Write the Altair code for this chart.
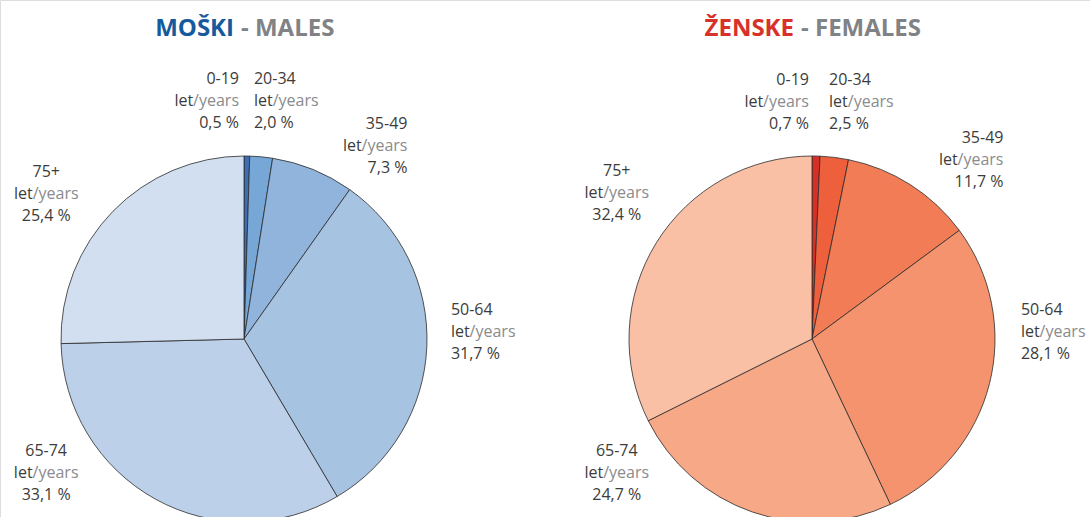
import math
import altair as alt
import pandas as pd

# ---------------- data ----------------
AGE_GROUPS = ["0-19", "20-34", "35-49", "50-64", "65-74", "75+"]
MALE_PCT = [0.5, 2.0, 7.3, 31.7, 33.1, 25.4]
FEMALE_PCT = [0.7, 2.5, 11.7, 28.1, 24.7, 32.4]
UNIT_SL = ["let"]
UNIT_EN = ["/years"]
MALE_TITLE = ["MOŠKI", "- MALES"]
FEMALE_TITLE = ["ŽENSKE", "- FEMALES"]

# ---------------- styles / layout ----------------
MALE_COLORS = ["#3e6db3", "#77a7d6", "#91b4dc", "#a6c3e2", "#bcd0ea", "#d2dff0"]
FEMALE_COLORS = ["#d52f27", "#ee5f3c", "#f27c55", "#f4936d", "#f7a887", "#fac0a6"]
LABEL_ALIGN = ["right", "left", "right", "left", "center", "center"]
MALE_NUDGE = [-2.1, -3.0, 18.1, -4.2, 26.9, -8.1]      # label angle shift from slice middle (deg)
MALE_LABEL_R = [238, 238, 253, 207, 239, 245]
FEMALE_NUDGE = [-2.0, -2.9, 14.4, -16.0, 36.4, 5.1]
FEMALE_LABEL_R = [237, 238, 262, 209, 237, 244]
FONT = "Open Sans"
DARK = "#3c3c3b"
GREY = "#8a8b8d"
TITLE_GREY = "#808285"
LABEL_SIZE = 16
LINE = 22
W_LET = 18.7
W_YEARS = 45.8


def pie_layers(values, colors, nudges, radii, cx, cy, r):
    total = sum(values)
    cum = 0.0
    rows = []
    for i, (a, v, n, lr, al) in enumerate(zip(AGE_GROUPS, values, nudges, radii, LABEL_ALIGN)):
        mid = (cum + v / 2) / total * 2 * math.pi
        cum += v
        rows.append(dict(idx=i, age=a, pct=v,
                         pct_txt=f"{v:.1f}".replace(".", ",") + " %",
                         let=UNIT_SL[0], years=UNIT_EN[0], al=al, lr=lr,
                         ang=mid + math.radians(n)))
    df = pd.DataFrame(rows)
    arcs = alt.Chart(df).mark_arc(outerRadius=r, stroke="#2b2b2b", strokeWidth=0.8).encode(
        theta=alt.Theta("pct:Q", stack=True),
        color=alt.Color("age:N", scale=alt.Scale(domain=AGE_GROUPS, range=colors), legend=None),
        order=alt.Order("idx:Q"),
        x=alt.value(cx), y=alt.value(cy),
    )
    out = [arcs]
    # per-alignment offsets for the two-colour middle line
    split = {
        "center": (("right", -W_YEARS / 2 - W_LET / 2 + W_LET), ("left", -W_YEARS / 2 - W_LET / 2 + W_LET)),
        "right": (("right", -W_YEARS), ("right", 0)),
        "left": (("left", 0), ("left", W_LET)),
    }
    for al, ((let_al, let_dx), (yrs_al, yrs_dx)) in split.items():
        base = alt.Chart(df).transform_filter(alt.datum.al == al).encode(
            theta=alt.Theta("ang:Q", scale=None, stack=None),
            radius=alt.Radius("lr:Q", scale=None, stack=None),
            x=alt.value(cx), y=alt.value(cy),
        )
        common = dict(font=FONT, fontSize=LABEL_SIZE, baseline="middle")
        out += [
            base.mark_text(dy=-LINE, color=DARK, align=al, **common).encode(text="age:N"),
            base.mark_text(dx=let_dx, color=DARK, align=let_al, **common).encode(text="let:N"),
            base.mark_text(dx=yrs_dx, color=GREY, align=yrs_al, **common).encode(text="years:N"),
            base.mark_text(dy=LINE, color=DARK, align=al, **common).encode(text="pct_txt:N"),
        ]
    return out


def title_layers(parts, color, split_x):
    df = pd.DataFrame({"a": [parts[0]], "b": [parts[1]]})
    base = alt.Chart(df).encode(y=alt.value(36))
    a = base.mark_text(font=FONT, fontSize=24, fontWeight="bold", color=color,
                       align="right", baseline="alphabetic").encode(text="a:N", x=alt.value(split_x - 3))
    b = base.mark_text(font=FONT, fontSize=24, fontWeight="bold", color=TITLE_GREY,
                       align="left", baseline="alphabetic").encode(text="b:N", x=alt.value(split_x + 4))
    return [a, b]


layers = []
layers += pie_layers(MALE_PCT, MALE_COLORS, MALE_NUDGE, MALE_LABEL_R, 244, 339, 183)
layers += pie_layers(FEMALE_PCT, FEMALE_COLORS, FEMALE_NUDGE, FEMALE_LABEL_R, 812, 339, 183)
layers += title_layers(MALE_TITLE, "#155a9c", 237)
layers += title_layers(FEMALE_TITLE, "#d7312a", 797)

chart = alt.layer(*layers).resolve_scale(
    theta="independent", color="independent"
).properties(
    width=1090, height=517, padding=0, autosize=alt.AutoSizeParams(type="none")
).configure_view(stroke=None).configure(background="white")

chart.save("out.html", embed_options={"renderer": "svg", "actions": False})
